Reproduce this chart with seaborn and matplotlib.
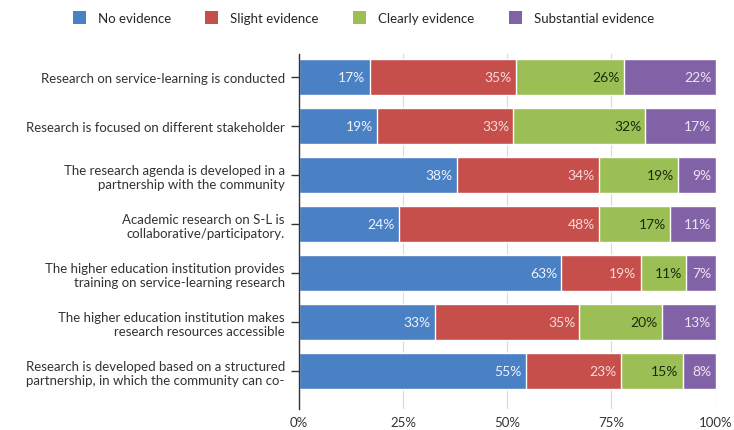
import numpy as np
import pandas as pd
import matplotlib
matplotlib.use("Agg")
import matplotlib.pyplot as plt
import seaborn as sns
from matplotlib.patches import Patch

CATEGORIES = [
    "Research on service-learning is conducted",
    "Research is focused on different stakeholder",
    "The research agenda is developed in a\npartnership with the community",
    "Academic research on S-L is\ncollaborative/participatory.",
    "The higher education institution provides\ntraining on service-learning research",
    "The higher education institution makes\nresearch resources accessible",
    "Research is developed based on a structured\npartnership, in which the community can co-",
]
SERIES = ["No evidence", "Slight evidence", "Clearly evidence", "Substantial evidence"]
NO_EVIDENCE = [17, 19, 38, 24, 63, 33, 55]
SLIGHT = [35, 33, 34, 48, 19, 35, 23]
CLEARLY = [26, 32, 19, 17, 11, 20, 15]
SUBSTANTIAL = [22, 17, 9, 11, 7, 13, 8]
TICKS = [0, 25, 50, 75, 100]

COLORS = ["#4a80c4", "#c64f4c", "#9bbf55", "#8262a6"]
TEXT_COLORS = ["#eef3fb", "#f6d9d8", "#1e2a10", "#ece4f4"]

sns.set_theme(style="white")
plt.rcParams["font.family"] = ["Lato", "DejaVu Sans"]

values = np.array([NO_EVIDENCE, SLIGHT, CLEARLY, SUBSTANTIAL], dtype=float)
# scale each row to 100% as in the original stacked chart
shares = values / values.sum(axis=0) * 100
cum = shares.cumsum(axis=0)

fig = plt.figure(figsize=(7.34, 4.31), dpi=100)
ax = fig.add_axes([0.407, 0.049, 0.568, 0.823])

# draw cumulative bars back to front so they stack
for i in range(len(SERIES) - 1, -1, -1):
    df = pd.DataFrame({"cat": CATEGORIES, "val": cum[i]})
    sns.barplot(data=df, x="val", y="cat", orient="h", color=COLORS[i],
                saturation=1, width=0.74, ax=ax, zorder=2)

for i in range(len(SERIES)):
    for j in range(len(CATEGORIES)):
        ax.text(cum[i, j] - 1.0, j, f"{int(values[i, j])}%", ha="right",
                va="center", fontsize=10, color=TEXT_COLORS[i], zorder=3)

ax.set_xlim(0, 100)
ax.set_ylim(6.78, -0.47)
ax.set_xticks(TICKS)
ax.set_xticklabels([f"{t}%" for t in TICKS])
ax.set_xlabel("")
ax.set_ylabel("")
ax.grid(axis="x", color="#d9d9d9", lw=0.8, zorder=0)
ax.set_axisbelow(True)
for s in ["top", "right", "bottom"]:
    ax.spines[s].set_visible(False)
ax.spines["left"].set_color("#333333")
ax.spines["left"].set_linewidth(1.0)
ax.tick_params(axis="x", length=0, pad=5, labelsize=9.5, labelcolor="#333333")
ax.tick_params(axis="y", left=True, direction="inout", length=12, width=1.0,
               color="#333333", pad=4, labelsize=9.5, labelcolor="#333333")
for lab in ax.get_yticklabels():
    lab.set_horizontalalignment("right")
    lab.set_multialignment("right")

handles = [Patch(facecolor=c, edgecolor="none") for c in COLORS]
fig.legend(handles, SERIES, loc="upper center", bbox_to_anchor=(0.495, 1.0),
           ncol=4, frameon=False, fontsize=9.5, handlelength=1.0,
           handleheight=1.1, columnspacing=2.6, handletextpad=0.9)

fig.savefig("out.png", dpi=100)
